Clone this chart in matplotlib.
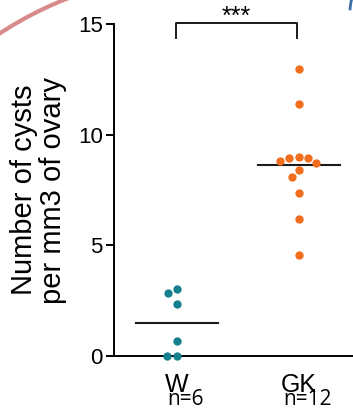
import numpy as np
import matplotlib
matplotlib.use("Agg")
import matplotlib.pyplot as plt
from matplotlib.patches import Arc

# values
groups = ["W", "GK"]
counts = ["n=6", "n=12"]
w_vals = [3.03, 2.85, 2.35, 0.68, 0.0, 0.0]
gk_vals = [12.95, 11.39, 9.0, 8.96, 8.96, 8.83, 8.73, 8.4, 8.1, 7.38, 6.18, 4.56]
colors = ["#17808f", "#f26d1d"]
yticks = [0, 5, 10, 15]
signif = "***"

W_PX, H_PX, DPI = 353, 412, 100


def swarm(vals, y_scale, x_scale, diam):
    # simple beeswarm: place each point at the smallest offset that doesn't overlap
    placed = []
    offs = []
    for v in vals:
        y = v * y_scale
        cands = [0.0]
        for (px, py) in placed:
            dy = abs(py - y)
            if dy < diam:
                dx = np.sqrt(diam ** 2 - dy ** 2)
                cands += [px + dx, px - dx]
        cands.sort(key=lambda c: (abs(c), c))
        for c in cands:
            if all((c - px) ** 2 + (y - py) ** 2 >= diam ** 2 - 1e-6 for px, py in placed):
                break
        placed.append((c, y))
        offs.append(c / x_scale)
    return offs


fig = plt.figure(figsize=(W_PX / DPI, H_PX / DPI), dpi=DPI)
plt.rcParams['font.family'] = ['Liberation Sans', 'DejaVu Sans']

left, bottom, top, right = 114, 412 - 356, 412, 353
ax = fig.add_axes([left / W_PX, bottom / H_PX, (right - left) / W_PX, (top - bottom) / H_PX])
ymax = 356 / 22.13
ax.set_ylim(0, ymax)
ax.set_xlim(-0.516, 1.443)

px_per_y = (top - bottom) / ymax
px_per_x = (right - left) / (1.443 + 0.516)

for i, vals in enumerate([w_vals, gk_vals]):
    offs = swarm(vals, px_per_y, px_per_x, 9.5)
    ax.scatter(np.array(offs) + i, vals, s=36, color=colors[i], zorder=3,
               clip_on=False, linewidths=0)
    m = np.mean(vals)
    ax.plot([i - 0.336, i + 0.336], [m, m], color="#1a1a1a", lw=1.5, zorder=2)

ax.spines['top'].set_visible(False)
ax.spines['right'].set_visible(False)
ax.spines['left'].set_bounds(0, 15)
ax.spines['left'].set_linewidth(1.4)
ax.spines['bottom'].set_linewidth(1.4)
ax.set_yticks(yticks)
ax.set_yticklabels([str(t) for t in yticks], fontsize=16)
ax.tick_params(axis='y', length=6, width=1.4, pad=2)
ax.set_xticks([0, 1])
ax.set_xticklabels(groups, fontsize=18)
ax.tick_params(axis='x', length=0, pad=12)
ax.set_ylabel("Number of cysts\nper mm3 of ovary", fontsize=21, linespacing=1.05)
ax.yaxis.set_label_coords(-0.195, 0.466)

# significance bracket
ax.plot([-0.01, -0.01, 0.98, 0.98], [14.37, 15.03, 15.03, 14.37], color="#1a1a1a",
        lw=1.4, clip_on=False)
ax.text(0.485, 15.0, signif, ha='center', va='baseline', fontsize=18, clip_on=False)

# group sizes under tick labels
for i, c in enumerate(counts):
    ax.text(i + 0.07, -1.95, c, ha='center', va='center', fontsize=15,
            family=['Open Sans', 'DejaVu Sans'])

# slide decorations at the corners
fig.patches.append(Arc((200, 74), 729, 729, theta1=100, theta2=135,
                       transform=None, color="#d98a8a", lw=3))
fig.patches.append(Arc((400, 400), 100, 100, theta1=155, theta2=178,
                       transform=None, color="#3a6ea5", lw=2))

fig.savefig("out.png", dpi=DPI)
